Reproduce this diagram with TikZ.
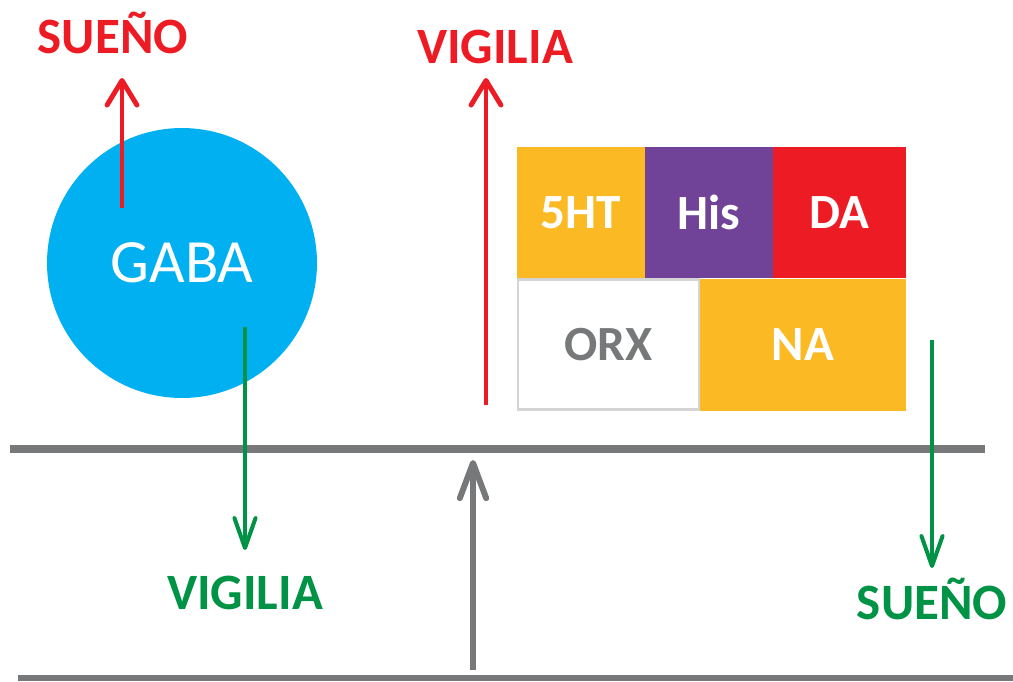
\documentclass[tikz,border=0pt]{standalone}
\usepackage{fontspec}
\setmainfont{Carlito}
\usepackage{tikz}
\usetikzlibrary{arrows.meta}
\definecolor{GabaFill}{RGB}{0,176,240}
\definecolor{WakeRed} {RGB}{237,28,36}
\definecolor{SleepGrn}{RGB}{0,146,69}
\definecolor{AxisGray}{RGB}{118,120,122}
\definecolor{NtYellow}{RGB}{251,185,36}
\definecolor{NtPurple}{RGB}{112,67,153}
\definecolor{OrxLine} {RGB}{212,212,212}
\tikzset{
  lbl_big/.style={
    inner sep=0pt, anchor=base,
    font=\fontsize{29pt}{29pt}\selectfont\bfseries},
  nt_box/.style={
    rectangle, inner sep=0pt, text=white,
    minimum height=2.62cm,
    font=\fontsize{28pt}{28pt}\selectfont\bfseries},
  arr_red/.style={-{Straight Barb[length=14pt,width=17pt,round]},
    WakeRed, line width=2.8pt},
  arr_grn/.style={-{Straight Barb[length=17pt,width=12pt,round]},
    SleepGrn, line width=2.3pt},
  arr_gray/.style={-{Straight Barb[length=20pt,width=15pt,round]},
    AxisGray, line width=3.4pt},
}

\begin{document}
\begin{tikzpicture}[x=0.02cm,y=-0.02cm]

\useasboundingbox (0,0) rectangle (1013,681);

%% GABA side
\node[circle, fill=GabaFill, minimum size=5.4cm, inner sep=0pt,
      text=white, font=\fontsize{35pt}{35pt}\selectfont]
      at (182,263) (gaba){GABA};

\node[lbl_big, text=WakeRed]  at (113,53)  (sueA){SUEÑO};
\node[lbl_big, text=SleepGrn] at (245,609) (vigA){VIGILIA};

\coordinate (gabaTop) at (122,208);
\coordinate (tipSue)  at (122,78);
\coordinate (gabaBot) at (245,327);
\coordinate (tipVigA) at (245,550);

%% monoamines + orexin
\node[nt_box, fill=NtYellow, minimum width=2.56cm] at (581,212.5)   (nt5ht){5HT};
\node[nt_box, fill=NtPurple, minimum width=2.56cm] at (709,212.5)   (nthis){His};
\node[nt_box, fill=WakeRed,  minimum width=2.66cm] at (839.5,212.5) (ntda){DA};
\node[nt_box, fill=white, draw=OrxLine, line width=1.6pt, text=AxisGray,
      minimum width=3.62cm, minimum height=2.6cm] at (608.5,344.5) (ntorx){ORX};
\node[nt_box, fill=NtYellow, minimum width=4.12cm, minimum height=2.64cm]
      at (803,344.5) (ntna){NA};

\node[lbl_big, text=WakeRed]  at (495,63)  (vigB){VIGILIA};
\node[lbl_big, text=SleepGrn] at (932,619) (sueB){SUEÑO};

\coordinate (redB)    at (486,405);
\coordinate (tipVigB) at (486,78);
\coordinate (grnB)    at (932,340);
\coordinate (tipSueB) at (932,568);

%% gray levels
\coordinate (lvlL) at (10,449);   \coordinate (lvlR) at (985,449);
\coordinate (baseL) at (18,678);  \coordinate (baseR) at (1013,678);
\coordinate (upBot) at (473,670); \coordinate (upTip) at (473,460);

\draw[AxisGray, line width=4.5pt] (lvlL) -- (lvlR);
\draw[AxisGray, line width=3.6pt] (baseL) -- (baseR);
\draw[arr_gray] (upBot) -- (upTip);

\draw[arr_red] (gabaTop) -- (tipSue);
\draw[arr_red] (redB) -- (tipVigB);
\draw[arr_grn] (gabaBot) -- (tipVigA);
\draw[arr_grn] (grnB) -- (tipSueB);

\end{tikzpicture}
\end{document}
